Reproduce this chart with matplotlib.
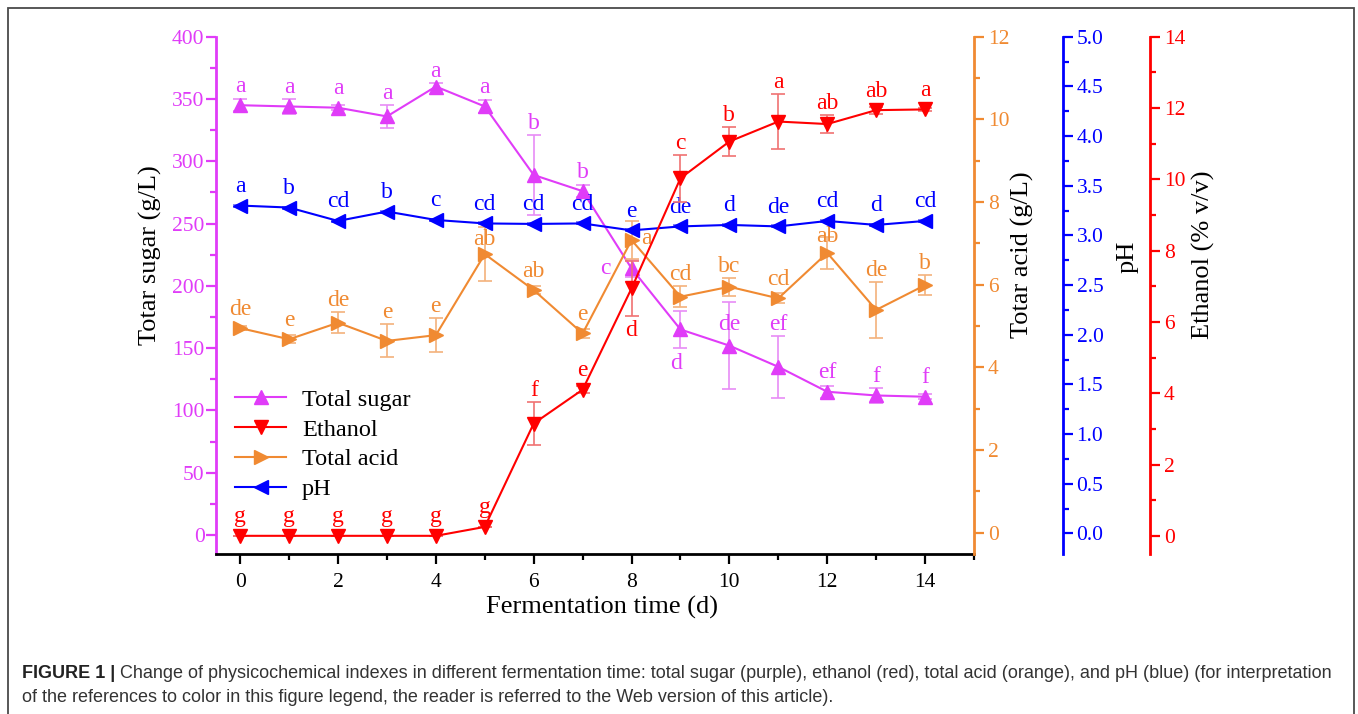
import matplotlib
matplotlib.use("Agg")
import matplotlib.pyplot as plt
from matplotlib.ticker import MultipleLocator, FormatStrFormatter
from matplotlib.patches import Rectangle

# ---------------- data ----------------
days = [0, 1, 2, 3, 4, 5, 6, 7, 8, 9, 10, 11, 12, 13, 14]

sugar = [345, 344, 343, 336, 360, 344, 289, 276, 214, 165, 152, 135, 115, 112, 111]
sugar_err = [5, 6, 2, 9, 3, 5, 32, 5, 7, 15, 35, 25, 5, 6, 2]
sugar_lab = ["a", "a", "a", "a", "a", "a", "b", "b", "c", "d", "de", "ef", "ef", "f", "f"]

ethanol = [0, 0, 0, 0, 0, 0.25, 3.15, 4.1, 6.94, 10.03, 11.06, 11.62, 11.55, 11.94, 11.96]
ethanol_err = [0, 0, 0, 0, 0, 0, 0.6, 0.1, 0.78, 0.66, 0.42, 0.76, 0.24, 0.1, 0.05]
ethanol_lab = ["g", "g", "g", "g", "g", "g", "f", "e", "d", "c", "b", "a", "ab", "ab", "a"]

acid = [4.95, 4.68, 5.08, 4.64, 4.78, 6.74, 5.87, 4.82, 7.08, 5.71, 5.95, 5.67, 6.77, 5.39, 5.99]
acid_err = [0.05, 0.1, 0.26, 0.4, 0.42, 0.65, 0.1, 0.1, 0.46, 0.26, 0.22, 0.12, 0.38, 0.68, 0.25]
acid_lab = ["de", "e", "de", "e", "e", "ab", "ab", "e", "a", "cd", "bc", "cd", "ab", "de", "b"]

ph = [3.30, 3.28, 3.145, 3.24, 3.155, 3.12, 3.115, 3.12, 3.05, 3.09, 3.105, 3.09, 3.145, 3.105, 3.145]
ph_err = [0.01] * 15
ph_lab = ["a", "b", "cd", "b", "c", "cd", "cd", "cd", "e", "de", "d", "de", "cd", "d", "cd"]

series_names = ["Total sugar", "Ethanol", "Total acid", "pH"]

# ---------------- style ----------------
W, H = 1358, 714
DPI = 100
SERIF = ["Liberation Serif", "DejaVu Serif"]
plt.rcParams["font.family"] = SERIF
plt.rcParams["mathtext.fontset"] = "stix"

C_SUGAR = "#E03CF8"
C_ETH = "#FF0000"
C_ACID = "#F08A32"
C_PH = "#0000FF"
C_SUGAR_E = "#E88CF6"
C_ETH_E = "#F07272"
C_ACID_E = "#F4B27C"
C_PH_E = "#7070F5"

TICK_FS = 15.5
LAB_FS = 19
LET_FS = 17
LEG_FS = 17.5

fig = plt.figure(figsize=(W / DPI, H / DPI), dpi=DPI)
fig.patch.set_facecolor("white")

L, R, T, B = 215.7, 974.0, 36.7, 554.0
ax = fig.add_axes([L / W, 1 - B / H, (R - L) / W, (B - T) / H])
ax_acid = ax.twinx()
ax_ph = ax.twinx()
ax_eth = ax.twinx()

ax.set_xlim(-0.5, 15)
ax.set_ylim(-15.25, 400)
ax_acid.set_ylim(-0.515, 12)
ax_ph.set_ylim(-0.208, 5)
ax_eth.set_ylim(-0.51, 14)

ph_pos = (1062.7 - L) / (R - L)
eth_pos = (1150.0 - L) / (R - L)
ax_ph.spines["right"].set_position(("axes", ph_pos))
ax_eth.spines["right"].set_position(("axes", eth_pos))

SPW = 2.0
for a in (ax, ax_acid, ax_ph, ax_eth):
    for s in a.spines.values():
        s.set_visible(False)
    a.patch.set_visible(False)

ax.spines["left"].set_visible(True)
ax.spines["left"].set_color(C_SUGAR)
ax.spines["left"].set_linewidth(SPW)
ax.spines["bottom"].set_visible(True)
ax.spines["bottom"].set_color("black")
ax.spines["bottom"].set_linewidth(SPW)
for a, c in ((ax_acid, C_ACID), (ax_ph, C_PH), (ax_eth, C_ETH)):
    a.spines["right"].set_visible(True)
    a.spines["right"].set_color(c)
    a.spines["right"].set_linewidth(SPW)

# ticks
ax.xaxis.set_major_locator(MultipleLocator(2))
ax.xaxis.set_minor_locator(MultipleLocator(1))
ax.yaxis.set_major_locator(MultipleLocator(50))
ax.yaxis.set_minor_locator(MultipleLocator(25))
ax_acid.yaxis.set_major_locator(MultipleLocator(2))
ax_acid.yaxis.set_minor_locator(MultipleLocator(1))
ax_ph.yaxis.set_major_locator(MultipleLocator(0.5))
ax_ph.yaxis.set_minor_locator(MultipleLocator(0.25))
ax_ph.yaxis.set_major_formatter(FormatStrFormatter("%.1f"))
ax_eth.yaxis.set_major_locator(MultipleLocator(2))
ax_eth.yaxis.set_minor_locator(MultipleLocator(1))

ax.tick_params(axis="x", which="major", direction="out", length=7, width=1.6,
               colors="black", labelsize=TICK_FS, pad=7)
ax.tick_params(axis="x", which="minor", direction="out", length=4, width=1.6, colors="black")
ax.tick_params(axis="y", which="major", direction="out", length=7, width=1.6,
               colors=C_SUGAR, labelsize=TICK_FS, pad=1)
ax.tick_params(axis="y", which="minor", direction="out", length=4, width=1.6, colors=C_SUGAR)
for a, c in ((ax_acid, C_ACID), (ax_ph, C_PH), (ax_eth, C_ETH)):
    a.tick_params(axis="y", which="major", direction="out", length=7, width=1.6,
                  colors=c, labelsize=TICK_FS, pad=3)
    a.tick_params(axis="y", which="minor", direction="out", length=4, width=1.6, colors=c)

# ---------------- data drawing ----------------
MS = 10
LW = 1.5

def draw(a, y, e, col, ecol, marker, z):
    a.errorbar(days, y, yerr=e, fmt="none", ecolor=ecol, elinewidth=1.2,
               capsize=5, capthick=1.2, zorder=z)
    ln, = a.plot(days, y, color=col, lw=LW, marker=marker, ms=MS,
                 markerfacecolor=col, markeredgecolor=col, zorder=z + 1)
    return ln

h_sugar = draw(ax, sugar, sugar_err, C_SUGAR, C_SUGAR_E, "^", 3)
h_acid = draw(ax_acid, acid, acid_err, C_ACID, C_ACID_E, ">", 3)
h_ph = draw(ax_ph, ph, ph_err, C_PH, C_PH_E, "<", 3)
h_eth = draw(ax_eth, ethanol, ethanol_err, C_ETH, C_ETH_E, "v", 3)

PX2PT = 72.0 / DPI

def letters(a, y, e, labs, col, special):
    for i, (x, v, er, t) in enumerate(zip(days, y, e, labs)):
        if i in special:
            dx, dy = special[i]
            a.annotate(t, xy=(x, v), xytext=(dx * PX2PT, dy * PX2PT),
                       textcoords="offset points", ha="center", va="center", color=col,
                       fontsize=LET_FS, fontfamily=SERIF, zorder=10)
            continue
        y0 = a.transData.transform((x, v))[1]
        y1 = a.transData.transform((x, v + er))[1]
        off = max(y1 - y0, 7.5) + 1.0
        a.annotate(t, xy=(x, v), xytext=(0, off * PX2PT), textcoords="offset points",
                   ha="center", va="bottom", color=col, fontsize=LET_FS,
                   fontfamily=SERIF, zorder=10)

letters(ax, sugar, sugar_err, sugar_lab, C_SUGAR,
        {4: (0, 15), 8: (-26, 0), 9: (-4, -34), 10: (0, 21)})
letters(ax_eth, ethanol, ethanol_err, ethanol_lab, C_ETH,
        {8: (0, -42)})
letters(ax_acid, acid, acid_err, acid_lab, C_ACID,
        {5: (0, 15), 8: (15, 2), 12: (0, 16)})
letters(ax_ph, ph, ph_err, ph_lab, C_PH, {})

# ---------------- labels ----------------
ylab_y = (B - 255) / (B - T)
ax.set_xlabel("Fermentation time (d)", fontsize=LAB_FS, fontfamily=SERIF, va="center")
ax.xaxis.set_label_coords((602 - L) / (R - L), (B - 607) / (B - T))
ax.set_ylabel("Totar sugar (g/L)", fontsize=LAB_FS, fontfamily=SERIF, va="center")
ax.yaxis.set_label_coords((150 - L) / (R - L), ylab_y)
ax_acid.set_ylabel("Totar acid (g/L)", fontsize=LAB_FS, fontfamily=SERIF)
ax_acid.yaxis.set_label_coords((1022 - L) / (R - L), ylab_y)
ax_ph.set_ylabel("pH", fontsize=LAB_FS, fontfamily=SERIF)
ax_ph.yaxis.set_label_coords((1128 - L) / (R - L), (B - 257) / (B - T))
ax_eth.set_ylabel("Ethanol (% v/v)", fontsize=LAB_FS, fontfamily=SERIF)
ax_eth.yaxis.set_label_coords((1203 - L) / (R - L), ylab_y)
for a in (ax_acid, ax_ph, ax_eth):
    a.yaxis.label.set_rotation(90)
    a.yaxis.label.set_va("center")
    a.yaxis.label.set_ha("center")

# ---------------- legend ----------------
leg = ax_eth.legend([h_sugar, h_eth, h_acid, h_ph], series_names,
                    loc="center left", bbox_to_anchor=(235 / W, 1 - 444.5 / H),
                    bbox_transform=fig.transFigure, frameon=False,
                    prop={"family": SERIF, "size": LEG_FS}, handlelength=2.1,
                    handletextpad=0.65, labelspacing=0.32, borderpad=0,
                    borderaxespad=0, numpoints=1)

# ---------------- caption & frame ----------------
fig.patches.append(Rectangle((8 / W, -0.05), (1354 - 8) / W, 1.05 - 8 / H,
                             transform=fig.transFigure, fill=False,
                             edgecolor="#4a4a4a", lw=1.3))

CAP_FS = 13.0
SANS = ["Liberation Sans", "DejaVu Sans"]
cap1_bold = "FIGURE 1 |"
cap1 = (" Change of physicochemical indexes in different fermentation time: total sugar (purple), "
        "ethanol (red), total acid (orange), and pH (blue) (for interpretation")
cap2 = "of the references to color in this figure legend, the reader is referred to the Web version of this article)."
t_b = fig.text(22 / W, 1 - 673 / H, cap1_bold, fontsize=CAP_FS, fontweight="bold",
               fontfamily=SANS, va="center", ha="left", color="#222222")
renderer = fig.canvas.get_renderer()
bb = t_b.get_window_extent(renderer)
fig.text(bb.x1 / W, 1 - 673 / H, cap1, fontsize=CAP_FS, fontfamily=SANS,
         va="center", ha="left", color="#333333")
fig.text(22 / W, 1 - 697 / H, cap2, fontsize=CAP_FS, fontfamily=SANS,
         va="center", ha="left", color="#333333")

fig.savefig("out.png", dpi=DPI)
